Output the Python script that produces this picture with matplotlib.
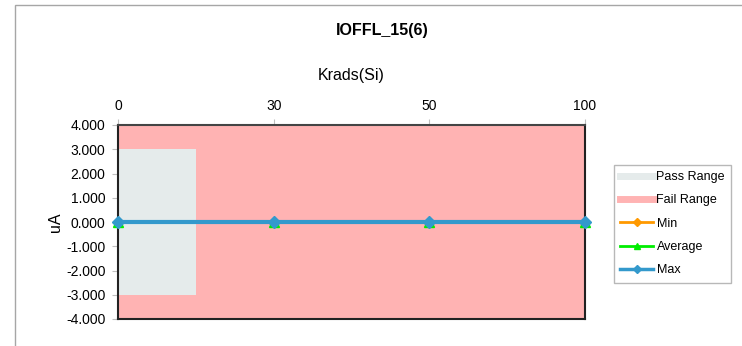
import matplotlib
matplotlib.use("Agg")
import matplotlib.pyplot as plt
from matplotlib.lines import Line2D
from matplotlib.patches import Rectangle

plt.rcParams['font.family'] = ['Liberation Sans', 'DejaVu Sans']

title = "IOFFL_15(6)"
categories = ["0", "30", "50", "100"]
min_vals = [0.0, 0.0, 0.0, 0.0]
avg_vals = [0.0, 0.0, 0.0, 0.0]
max_vals = [0.0, 0.0, 0.0, 0.0]
pass_low, pass_high = -3.0, 3.0
fail_low, fail_high = -4.0, 4.0
pass_span = [0, 0.5]
yticks = [4, 3, 2, 1, 0, -1, -2, -3, -4]

W, H = 742, 346
fig = plt.figure(figsize=(W / 100, H / 100), dpi=100)

# chart outer border (partially visible)
fig.patches.append(Rectangle((15 / W, -0.1), 1.2, 1 - 5 / H + 0.1, transform=fig.transFigure,
                             fill=False, edgecolor='#A6A6A6', linewidth=1.0))

ax = fig.add_axes([118 / W, 1 - 319 / H, (585 - 118) / W, (319 - 125) / H])
x = list(range(len(categories)))
n = len(categories) - 1

ax.fill_between([0, n], [fail_low, fail_low], [fail_high, fail_high], color='#FFB3B3', linewidth=0, zorder=1)
ax.fill_between(pass_span, [pass_low] * 2, [pass_high] * 2, color='#E5EBEB', linewidth=0, zorder=2)

ax.plot(x, min_vals, color='#FF9900', marker='D', markersize=5, linewidth=2, zorder=3, clip_on=False)
ax.plot(x, avg_vals, color='#00EE00', marker='^', markersize=7, linewidth=2, zorder=4, clip_on=False)
ax.plot(x, max_vals, color='#3399CC', marker='D', markersize=6, linewidth=3, zorder=5, clip_on=False)

ax.set_xlim(0, n)
ax.set_ylim(fail_low, fail_high)
ax.set_yticks(yticks)
ax.set_yticklabels([f"{v:.3f}" for v in yticks], fontsize=10)
ax.xaxis.tick_top()
ax.xaxis.set_label_position('top')
ax.set_xticks(x)
ax.set_xticklabels(categories, fontsize=10)
ax.tick_params(axis='x', length=4, pad=5, color='#BFBFBF')
ax.tick_params(axis='y', length=4, pad=5, color='#BFBFBF')
ax.set_xlabel("Krads(Si)", fontsize=11.5, labelpad=13)
ax.set_ylabel("uA", fontsize=11.5)
ax.yaxis.set_label_coords((63 - 118) / (585 - 118), 0.5)
for s in ax.spines.values():
    s.set_color('#222222')
    s.set_linewidth(1.5)
ax.spines['top'].set_color('#444444')

fig.text(382 / W, 1 - 30 / H, title, ha='center', va='center', fontsize=11.5, fontweight='bold')

handles = [
    Line2D([], [], color='#E5EBEB', linewidth=5),
    Line2D([], [], color='#FFB3B3', linewidth=5),
    Line2D([], [], color='#FF9900', marker='D', markersize=4, linewidth=2),
    Line2D([], [], color='#00EE00', marker='^', markersize=5, linewidth=2),
    Line2D([], [], color='#3399CC', marker='D', markersize=4, linewidth=2.5),
]
labels = ["Pass Range", "Fail Range", "Min", "Average", "Max"]
leg = fig.legend(handles, labels, loc='upper left', bbox_to_anchor=(614 / W, 1 - 165 / H),
                 fontsize=9, frameon=True, fancybox=False, edgecolor='#A6A6A6',
                 handlelength=2.6, handletextpad=0.3, labelspacing=0.9,
                 borderpad=0.5, borderaxespad=0)
leg.get_frame().set_linewidth(1.0)

fig.savefig("out.png", dpi=100)
